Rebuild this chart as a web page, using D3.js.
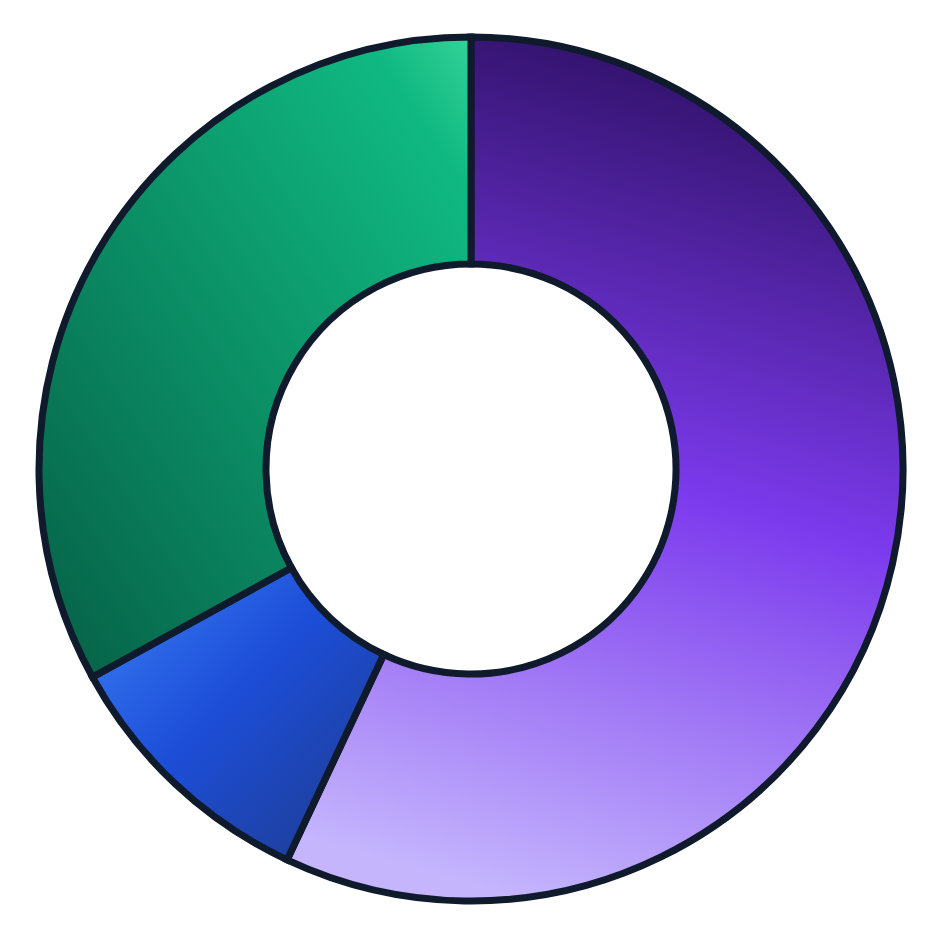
<!DOCTYPE html>
<html>
<head>
<meta charset="utf-8">
<script src="https://cdn.jsdelivr.net/npm/d3@7"></script>
<style>
  html, body { margin: 0; padding: 0; background: #ffffff; }
  svg { display: block; }
</style>
</head>
<body>
<svg id="chart"></svg>
<script>
const categories = ["A", "B", "C"];
const values = [57, 10, 33];
// gradient stops per slice: colours and offsets
const gradColors = [
    ["#2e1065", "#7c3aed", "#c4b5fd"],
    ["#3b82f6", "#1d4ed8", "#1e3a8a"],
    ["#34d399", "#10b981", "#065f46"]
];
const gradOffsets = [
    [0, 0.5, 1],
    [0, 0.45, 1],
    [0, 0.12, 1]
];
// gradient direction in bbox units: x1, y1, x2, y2
const gradDirs = [
    [0.6, 0, 0.4, 1],
    [0, 0, 1, 1],
    [1, 0, 0, 1]
];

const width = 938;
const height = 938;
const cx = 471;
const cy = 469;
const outerR = 432;
const innerR = 205;

const svg = d3.select("#chart")
    .attr("width", width)
    .attr("height", height);

const defs = svg.append("defs");
gradColors.forEach((stops, i) => {
    const g = defs.append("linearGradient")
        .attr("id", "grad" + i)
        .attr("x1", gradDirs[i][0])
        .attr("y1", gradDirs[i][1])
        .attr("x2", gradDirs[i][2])
        .attr("y2", gradDirs[i][3]);
    stops.forEach((c, j) => {
        g.append("stop")
            .attr("offset", gradOffsets[i][j])
            .attr("stop-color", c);
    });
});

const pie = d3.pie().sort(null).value(d => d.value);
const arc = d3.arc().innerRadius(innerR).outerRadius(outerR);

const data = categories.map((c, i) => ({name: c, value: values[i]}));

svg.append("g")
    .attr("transform", `translate(${cx},${cy})`)
    .selectAll("path")
    .data(pie(data))
    .join("path")
    .attr("d", arc)
    .attr("fill", (d, i) => `url(#grad${i})`)
    .attr("stroke", "#0f1a2c")
    .attr("stroke-width", 7)
    .attr("stroke-linejoin", "miter");
</script>
</body>
</html>
